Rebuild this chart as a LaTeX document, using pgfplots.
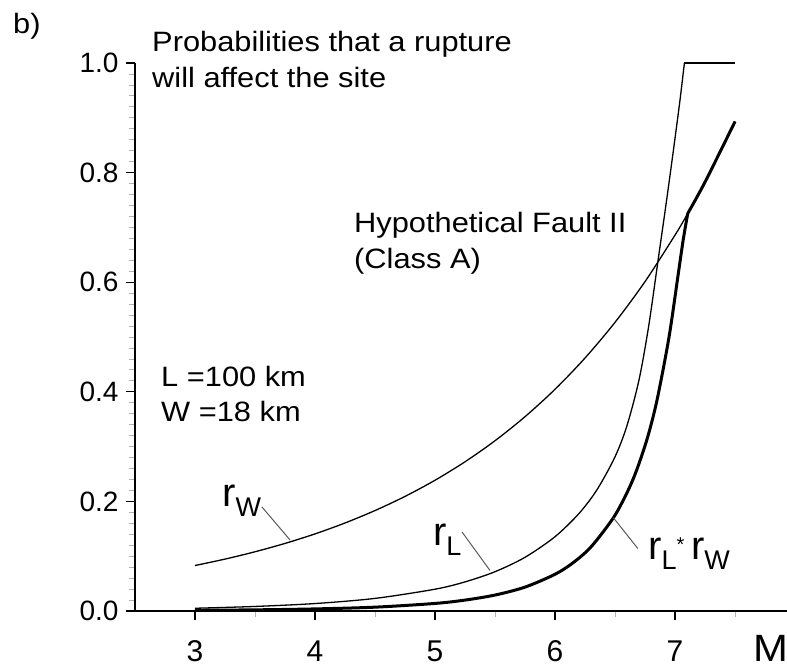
\documentclass[border=0pt]{standalone}
\usepackage{fontspec}
\setmainfont{Liberation Sans}
\newfontfamily\widefont{Liberation Sans}[FakeStretch=1.1]
\usepackage{pgfplots}
\usepackage{pgfplotstable}
\pgfplotsset{compat=1.18}

\pgfplotstableread{
M rW
3.00 0.0830
3.25 0.0947
3.50 0.1081
3.75 0.1233
4.00 0.1407
4.25 0.1606
4.50 0.1833
4.75 0.2091
5.00 0.2386
5.25 0.2723
5.50 0.3107
5.75 0.3546
6.00 0.4046
6.25 0.4617
6.50 0.5268
6.75 0.6011
7.00 0.6860
7.106 0.7255
7.25 0.7828
7.50 0.8932
}\rWdata

\pgfplotstableread{
M rL
3.00 0.0050
3.50 0.0083
4.00 0.0136
4.50 0.0230
5.00 0.0398
5.25 0.0531
5.50 0.0717
5.75 0.0980
6.00 0.1356
6.20 0.1780
6.35 0.2214
6.50 0.2814
6.60 0.3386
6.70 0.4219
6.78 0.5194
6.86 0.6420
6.93 0.7500
6.986 0.8400
7.04 0.9300
7.078 1.0000
}\rLdata

\pgfplotstableread{
M rL
7.078 1.000
7.50 1.000
}\rLflat

\pgfplotstableread{
M p
3.00 0.00125
3.50 0.0021
4.00 0.0038
4.50 0.0070
5.00 0.0138
5.25 0.0199
5.50 0.0291
5.75 0.0436
6.00 0.0670
6.15 0.0880
6.30 0.1170
6.486 0.1700
6.60 0.2160
6.68 0.2570
6.77 0.3160
6.85 0.3850
6.95 0.5000
7.03 0.6200
7.07 0.6800
7.106 0.7255
}\Pdata

\pgfplotstableread{
M p
7.106 0.7255
7.25 0.7828
7.50 0.8932
}\Ptail

\newcommand{\txt}{\widefont\fontsize{28}{34}\selectfont}
\newcommand{\sub}[1]{\raisebox{-10pt}{\fontsize{27}{30}\selectfont #1}}

\begin{document}
\begin{tikzpicture}
\begin{axis}[
  name=ax, at={(0pt,0pt)}, anchor=south west,
  scale only axis, width=652pt, height=548pt,
  xmin=2.5, xmax=7.933, ymin=0, ymax=1,
  axis x line*=bottom, axis y line*=left,
  axis line style={line width=1.2pt, black},
  xtick={3,4,5,6,7}, minor xtick={3.5,4.5,5.5,6.5,7.5},
  ytick={0,0.2,0.4,0.6,0.8,1.0}, minor y tick num=9,
  tick align=outside, major tick length=9pt, minor tick length=6pt,
  major tick style={black, line width=1.1pt},
  minor tick style={black!30, line width=0.8pt},
  ticklabel style={font=\fontsize{28}{34}\selectfont},
  xticklabel style={font=\fontsize{30}{34}\selectfont, yshift=-17pt},
  /pgf/number format/assume math mode=true,
  xticklabel={\pgfmathprintnumber[fixed,precision=0]{\tick}},
  yticklabel={\pgfmathprintnumber[fixed,fixed zerofill,precision=1]{\tick}},
  yticklabel style={xshift=-4pt},
  clip=false,
]
\addplot[black, line width=1.3pt, smooth] table[x=M, y=rW] {\rWdata};
\addplot[black, line width=1.3pt, smooth] table[x=M, y=rL] {\rLdata};
\addplot[black, line width=1.3pt] table[x=M, y=rL] {\rLflat};
\addplot[black, line width=3pt, smooth] table[x=M, y=p] {\Pdata};
\addplot[black, line width=3pt, smooth] table[x=M, y=p] {\Ptail};

\draw[black!65, line width=1pt] (axis cs:3.558,0.1898) -- (axis cs:3.792,0.1296);
\draw[black!65, line width=1pt] (axis cs:5.225,0.1442) -- (axis cs:5.458,0.0740);
\draw[black!65, line width=1pt] (axis cs:6.487,0.170) -- (axis cs:6.69,0.114);

\node[anchor=base west, inner sep=0pt, font=\txt] at (axis cs:1.483,1.0547) {b)};
\node[anchor=base west, inner sep=0pt, font=\txt] at (axis cs:2.642,1.0201) {Probabilities that a rupture};
\node[anchor=base west, inner sep=0pt, font=\txt] at (axis cs:2.642,0.9544) {will affect the site};
\node[anchor=base west, inner sep=0pt, font=\txt] at (axis cs:4.325,0.6898) {Hypothetical Fault II};
\node[anchor=base west, inner sep=0pt, font=\txt] at (axis cs:4.325,0.6259) {(Class A)};
\node[anchor=base west, inner sep=0pt, font=\txt] at (axis cs:2.717,0.4088) {L =100 km};
\node[anchor=base west, inner sep=0pt, font=\txt] at (axis cs:2.717,0.3467) {W =18 km};
\node[anchor=base west, inner sep=0pt, font=\fontsize{40}{44}\selectfont] at (axis cs:3.225,0.1898) {r\sub{W}};
\node[anchor=base west, inner sep=0pt, font=\fontsize{40}{44}\selectfont] at (axis cs:4.983,0.1204) {r\sub{L}};
\node[anchor=base west, inner sep=0pt, font=\fontsize{40}{44}\selectfont] at (axis cs:6.775,0.0931) {r\sub{L}\raisebox{8pt}{\fontsize{20}{24}\selectfont *}\,r\sub{W}};
\node[anchor=base west, inner sep=0pt, font=\widefont\fontsize{38}{42}\selectfont] at (axis cs:7.65,-0.093) {M};
\end{axis}
\pgfresetboundingbox
\path[use as bounding box] (-135pt,-58pt) rectangle (652pt,611pt);
\end{tikzpicture}
\end{document}
